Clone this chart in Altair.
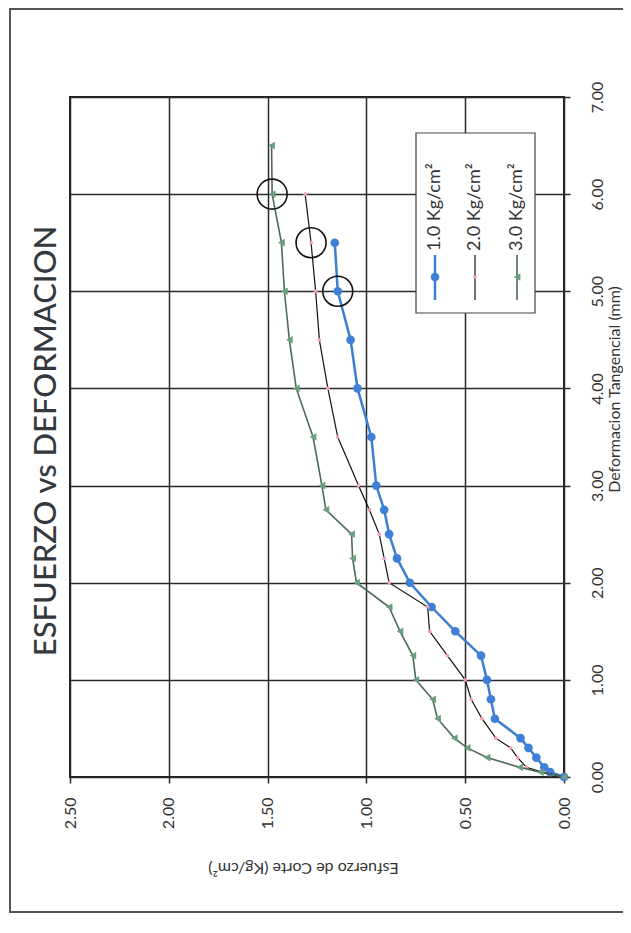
import altair as alt
import pandas as pd

# ---------------- data ----------------
series_names = ["1.0 Kg/cm²", "2.0 Kg/cm²", "3.0 Kg/cm²"]

def_1 = [0, 0.05, 0.10, 0.20, 0.30, 0.40, 0.60, 0.80, 1.00, 1.25, 1.50, 1.75,
         2.00, 2.25, 2.50, 2.75, 3.00, 3.50, 4.00, 4.50, 5.00, 5.50]
str_1 = [0, 0.07, 0.10, 0.14, 0.18, 0.22, 0.35, 0.37, 0.39, 0.42, 0.55, 0.67,
         0.78, 0.845, 0.885, 0.91, 0.95, 0.975, 1.045, 1.08, 1.145, 1.16]

def_2 = [0, 0.05, 0.10, 0.20, 0.30, 0.40, 0.60, 0.80, 1.00, 1.25, 1.50, 1.75,
         2.00, 2.25, 2.50, 2.75, 3.00, 3.50, 4.00, 4.50, 5.00, 5.50, 6.00]
str_2 = [0, 0.11, 0.19, 0.235, 0.27, 0.345, 0.415, 0.47, 0.50, 0.59, 0.68, 0.69,
         0.885, 0.91, 0.935, 0.985, 1.04, 1.145, 1.195, 1.238, 1.257, 1.28, 1.31]

def_3 = [0, 0.05, 0.10, 0.20, 0.30, 0.40, 0.60, 0.80, 1.00, 1.25, 1.50, 1.75,
         2.00, 2.25, 2.50, 2.75, 3.00, 3.50, 4.00, 4.50, 5.00, 5.50, 6.00, 6.50]
str_3 = [0, 0.12, 0.225, 0.39, 0.49, 0.555, 0.64, 0.665, 0.75, 0.765, 0.83, 0.885,
         1.05, 1.07, 1.075, 1.205, 1.225, 1.27, 1.355, 1.39, 1.415, 1.43, 1.477, 1.48]

# circled peak points
peak_def = [5.00, 5.50, 6.00]
peak_str = [1.145, 1.28, 1.477]

x_ticks = [0, 0.5, 1.0, 1.5, 2.0, 2.5]
y_ticks = [0, 1, 2, 3, 4, 5, 6, 7]

chart_title = "ESFUERZO vs DEFORMACION"
x_title = "Esfuerzo de Corte (Kg/cm²)"
y_title = "Deformacion Tangencial (mm)"

# ---------------- layout / style ----------------
W, H = 494, 680
FONT = "Lato"
TXT = "#333333"

colors_line = ["#3b7fd0", "#111111", "#4d6b57"]
colors_pt = ["#3f80d6", "#f2a0b4", "#6a9f80"]
shapes = ["circle", "circle", "triangle-left"]
pt_sizes = [75, 14, 60]
line_w = [2.5, 1.2, 1.6]

frames = []
for name, d, s in zip(series_names, [def_1, def_2, def_3], [str_1, str_2, str_3]):
    frames.append(pd.DataFrame({"serie": name, "def": d, "esf": s}))
df = pd.concat(frames, ignore_index=True)

x_enc = alt.X("esf:Q",
              scale=alt.Scale(domain=[0, 2.5], reverse=True, nice=False, zero=False),
              axis=alt.Axis(values=x_ticks, format=".2f", orient="bottom",
                            labelAngle=270, labelAlign="right", labelBaseline="middle",
                            labelPadding=14, tickSize=6, title=x_title,
                            titleAngle=180, titleX=233, titleY=90, titleFontSize=16,
                            titleBaseline="middle", titleAlign="center"))
y_enc = alt.Y("def:Q",
              scale=alt.Scale(domain=[0, 7], nice=False, zero=False),
              axis=alt.Axis(values=y_ticks, format=".2f", orient="right",
                            labelAngle=270, labelAlign="center", labelBaseline="top",
                            labelPadding=19, tickSize=6, title=y_title,
                            titleAngle=270, titleX=42, titleY=292, titleFontSize=16,
                            titleBaseline="top", titleAlign="center"))

layers = []
for i, name in enumerate(series_names):
    base = alt.Chart(df).transform_filter(alt.datum.serie == name)
    layers.append(base.mark_line(color=colors_line[i], strokeWidth=line_w[i]).encode(
        x=x_enc, y=y_enc, order="def:Q"))
    layers.append(base.mark_point(shape=shapes[i], filled=True, opacity=1,
                                  color=colors_pt[i], size=pt_sizes[i]).encode(
        x=x_enc, y=y_enc))

peaks = alt.Chart(pd.DataFrame({"def": peak_def, "esf": peak_str})).mark_point(
    shape="circle", filled=False, color="#111", strokeWidth=1.6, size=900, opacity=1
).encode(x=x_enc, y=y_enc)
layers.append(peaks)

# legend (rotated like the rest of the picture)
one = pd.DataFrame({"t": [0]})
leg_x = [365, 405, 447]
layers.append(alt.Chart(one).mark_rect(fill="white", stroke="#444", strokeWidth=1.2).encode(
    x=alt.value(346), x2=alt.value(465), y=alt.value(36), y2=alt.value(216)))
for i, name in enumerate(series_names):
    layers.append(alt.Chart(one).mark_rule(color=colors_line[i], strokeWidth=line_w[i]).encode(
        x=alt.value(leg_x[i]), y=alt.value(158), y2=alt.value(203)))
    layers.append(alt.Chart(one).mark_point(shape=shapes[i], filled=True, opacity=1,
                                            color=colors_pt[i], size=pt_sizes[i]).encode(
        x=alt.value(leg_x[i]), y=alt.value(180)))
    layers.append(alt.Chart(pd.DataFrame({"t": [name]})).mark_text(
        angle=270, align="left", baseline="middle", font=FONT, fontSize=18, color=TXT
    ).encode(x=alt.value(leg_x[i]), y=alt.value(154), text="t:N"))

# main title (rotated)
layers.append(alt.Chart(pd.DataFrame({"t": [chart_title]})).mark_text(
    angle=270, align="center", baseline="middle", font=FONT, fontSize=31,
    fontWeight=500, color="#34383f"
).encode(x=alt.value(-23), y=alt.value(H / 2 + 4), text="t:N"))

# outer frame
layers.append(alt.Chart(one).mark_rect(fill=None, stroke="#555", strokeWidth=2).encode(
    x=alt.value(-60), x2=alt.value(600), y=alt.value(-88), y2=alt.value(815)))

chart = alt.layer(*layers).properties(
    width=W, height=H,
    padding={"left": 62, "top": 89, "right": 59, "bottom": 136},
    autosize=alt.AutoSizeParams(type="none"),
    background="white",
).configure_view(
    stroke="#222", strokeWidth=2
).configure_axis(
    grid=True, gridColor="#2a2a2a", gridWidth=1.5, domain=False,
    tickColor="#2a2a2a", tickWidth=1.5,
    labelFont=FONT, labelFontSize=16, labelColor=TXT,
    titleFont=FONT, titleFontSize=15, titleFontWeight="normal", titleColor=TXT,
)

chart.save("out.html", embed_options={"renderer": "svg", "actions": False})
